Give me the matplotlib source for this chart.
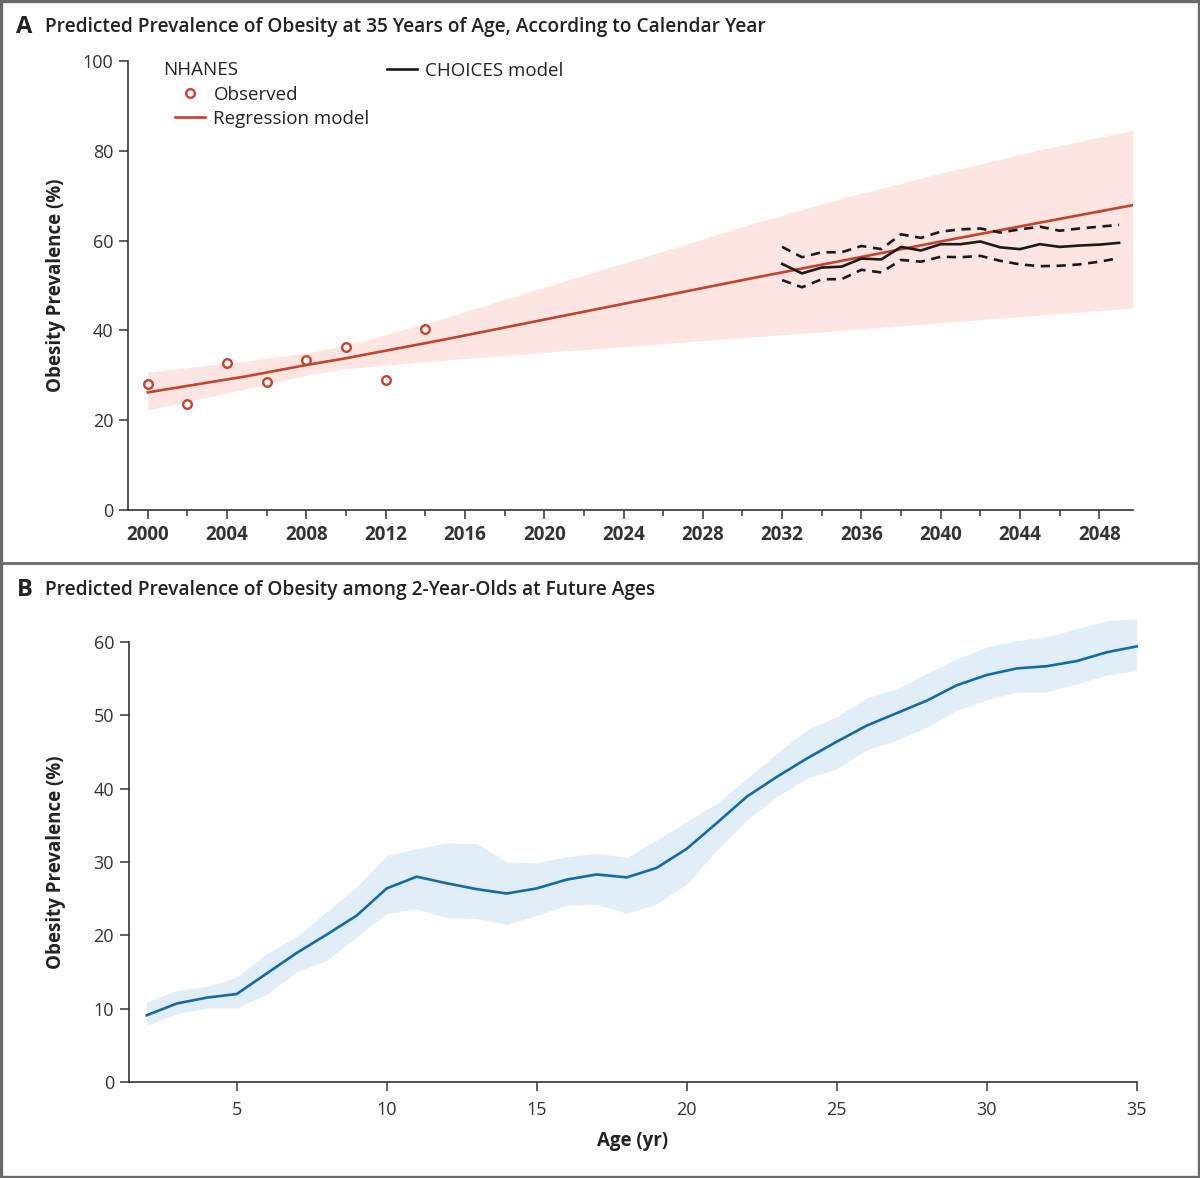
import matplotlib
matplotlib.use("Agg")
import matplotlib.pyplot as plt
from matplotlib.lines import Line2D
import numpy as np

plt.rcParams['font.family'] = ['Open Sans', 'DejaVu Sans']
plt.rcParams['text.color'] = '#222222'
plt.rcParams['axes.labelcolor'] = '#222222'
plt.rcParams['xtick.color'] = '#333333'
plt.rcParams['ytick.color'] = '#333333'

# ---- panel A data ----
obs_years = [2000, 2002, 2004, 2006, 2008, 2010, 2012, 2014]
obs_vals = [28.0, 23.5, 32.7, 28.4, 33.5, 36.2, 29.0, 40.4]

reg_years = [2000, 2005, 2008, 2010, 2015, 2020, 2025, 2030, 2035, 2040, 2045, 2049.7]
reg_vals = [26.2, 29.8, 32.3, 33.8, 38.0, 42.4, 46.8, 51.2, 55.5, 59.8, 64.0, 67.9]
reg_upper = [30.7, 33.2, 35.0, 36.6, 42.8, 49.6, 56.3, 63.1, 69.4, 75.0, 80.2, 84.6]
reg_lower = [22.3, 27.0, 30.0, 31.5, 33.4, 35.1, 36.7, 38.4, 40.0, 41.7, 43.4, 45.0]

choices_years = list(range(2032, 2050))
choices_vals = [54.8, 52.7, 54.0, 54.2, 56.0, 55.8, 58.6, 57.8, 59.2, 59.2,
                59.8, 58.5, 58.1, 59.2, 58.6, 58.9, 59.1, 59.5]
choices_upper = [58.6, 56.3, 57.4, 57.4, 58.8, 58.1, 61.4, 60.6, 62.0, 62.5,
                 62.7, 61.8, 62.5, 63.1, 62.2, 62.7, 63.1, 63.5]
choices_lower = [51.2, 49.6, 51.4, 51.4, 53.5, 52.9, 55.7, 55.3, 56.4, 56.3,
                 56.6, 55.5, 54.7, 54.3, 54.4, 54.7, 55.3, 56.1]

# ---- panel B data ----
ages = list(range(2, 36))
age_vals = [9.1, 10.7, 11.5, 12.0, 14.8, 17.6, 20.1, 22.7, 26.4, 28.0,
            27.1, 26.3, 25.7, 26.4, 27.6, 28.3, 27.9, 29.2, 31.8, 35.3,
            38.9, 41.6, 44.1, 46.4, 48.6, 50.3, 52.0, 54.1, 55.5, 56.4,
            56.7, 57.4, 58.6, 59.4]
age_upper = [10.9, 12.5, 13.0, 14.3, 17.5, 19.8, 23.2, 26.6, 30.9, 31.8,
             32.6, 32.5, 30.0, 29.9, 30.7, 31.2, 30.6, 33.0, 35.5, 38.0,
             41.4, 44.8, 48.0, 49.8, 52.4, 53.6, 55.7, 57.7, 59.3, 60.2,
             60.7, 61.8, 62.9, 63.2]
age_lower = [7.7, 9.3, 10.1, 10.1, 12.0, 15.0, 16.6, 19.8, 23.0, 23.6,
             22.4, 22.3, 21.5, 22.7, 24.1, 24.2, 23.0, 24.3, 27.0, 31.6,
             35.7, 38.9, 41.4, 42.7, 45.3, 46.6, 48.4, 50.7, 52.1, 53.2,
             53.2, 54.3, 55.5, 56.1]

red = '#c5432e'
pink = '#fde6e2'
blue = '#136aa8'
lightblue = '#e2eef7'
W, H = 1200, 1178

fig = plt.figure(figsize=(12, 11.78), dpi=100)


def style_axes(ax):
    for s in ['top', 'right']:
        ax.spines[s].set_visible(False)
    for s in ['left', 'bottom']:
        ax.spines[s].set_color('#333333')
        ax.spines[s].set_linewidth(1.2)
    ax.tick_params(which='major', length=6.5, width=1.1, labelsize=13, pad=4)
    ax.tick_params(which='minor', length=4.5, width=1.1)


# ---------------- panel A ----------------
axA = fig.add_axes([128 / W, 1 - 510 / H, (1133 - 128) / W, (510 - 61) / H])
axA.fill_between(reg_years, reg_lower, reg_upper, color=pink, lw=0, zorder=1)
axA.plot(reg_years, reg_vals, color=red, lw=1.9, zorder=3, label='Regression model')
axA.plot(obs_years, obs_vals, 'o', ms=6.2, mfc='white', mec=red, mew=1.7,
         zorder=4, label='Observed')
axA.plot(choices_years, choices_vals, color='#1a1a1a', lw=1.9, zorder=5)
axA.plot(choices_years, choices_upper, color='#1a1a1a', lw=1.9, dashes=(3.5, 2.5), zorder=5)
axA.plot(choices_years, choices_lower, color='#1a1a1a', lw=1.9, dashes=(3.5, 2.5), zorder=5)
axA.set_xlim(1999, 2049.7)
axA.set_ylim(0, 100)
axA.set_xticks(range(2000, 2049, 4))
axA.set_xticks(range(2002, 2049, 4), minor=True)
axA.set_yticks(range(0, 101, 20))
style_axes(axA)
axA.tick_params(axis='x', labelsize=13.5)
for lab in axA.get_xticklabels():
    lab.set_fontweight('bold')
axA.set_ylabel('Obesity Prevalence (%)', fontsize=13.5, fontweight='bold')
axA.yaxis.set_label_coords(-0.062, 0.5)

axA.text(163 / W, 1 - 70 / H, 'NHANES', transform=fig.transFigure, fontsize=13.5,
         va='center', ha='left')
h_obs = Line2D([], [], marker='o', ls='none', ms=6.2, mfc='white', mec=red, mew=1.7)
h_reg = Line2D([], [], color=red, lw=1.9)
leg1 = axA.legend([h_obs, h_reg], ['Observed', 'Regression model'], loc='upper left',
                  bbox_to_anchor=(47 / 1005, 0.945), frameon=False, fontsize=13.5,
                  handlelength=1.6, handletextpad=0.45, labelspacing=0.32,
                  borderpad=0, borderaxespad=0)
axA.add_artist(leg1)
h_ch = Line2D([], [], color='#1a1a1a', lw=1.9)
axA.legend([h_ch], ['CHOICES model'], loc='upper left', bbox_to_anchor=(259 / 1005, 0.998),
           frameon=False, fontsize=13.5, handlelength=1.6, handletextpad=0.45,
           borderpad=0, borderaxespad=0)

# ---------------- panel B ----------------
axB = fig.add_axes([128.7 / W, 1 - 1082 / H, (1136.7 - 128.7) / W, (1082 - 642) / H])
axB.fill_between(ages, age_lower, age_upper, color=lightblue, lw=0, zorder=1, clip_on=False)
axB.plot(ages, age_vals, color=blue, lw=1.9, zorder=3, clip_on=False)
axB.set_xlim(1.4, 35)
axB.set_ylim(0, 60)
axB.set_xticks(range(5, 36, 5))
axB.set_yticks(range(0, 61, 10))
style_axes(axB)
axB.tick_params(axis='x', pad=7)
axB.set_ylabel('Obesity Prevalence (%)', fontsize=13.5, fontweight='bold')
axB.yaxis.set_label_coords(-0.0625, 0.5)
axB.set_xlabel('Age (yr)', fontsize=13.5, fontweight='bold', labelpad=9)

# ---------------- titles and frame ----------------
fig.text(16 / W, 1 - 27 / H, 'A', fontsize=17, fontweight='bold', va='center')
fig.text(45 / W, 1 - 27 / H,
         'Predicted Prevalence of Obesity at 35 Years of Age, According to Calendar Year',
         fontsize=13.8, fontweight='semibold', va='center')
fig.text(17 / W, 1 - 590 / H, 'B', fontsize=17, fontweight='bold', va='center')
fig.text(45 / W, 1 - 590 / H,
         'Predicted Prevalence of Obesity among 2-Year-Olds at Future Ages',
         fontsize=13.8, fontweight='semibold', va='center')

frame_c = '#6a6a6a'
fig.add_artist(plt.Rectangle((0.001, 0.001), 0.998, 0.998, transform=fig.transFigure,
                             fill=False, ec=frame_c, lw=2.4))
fig.add_artist(Line2D([0, 1], [1 - 563 / H, 1 - 563 / H], transform=fig.transFigure,
                      color=frame_c, lw=2.0))

fig.savefig('out.png', dpi=100, facecolor='white')
